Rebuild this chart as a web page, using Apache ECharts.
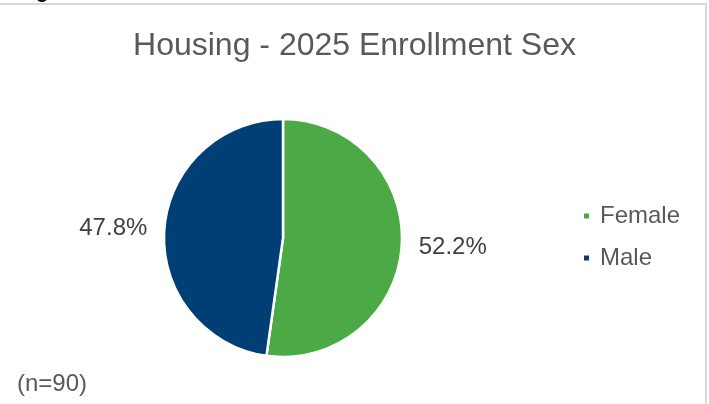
<!DOCTYPE html>
<html><head><meta charset="utf-8">
<script src="https://cdn.jsdelivr.net/npm/echarts@6/dist/echarts.min.js"></script>
<style>html,body{margin:0;padding:0;background:#fff}#c{width:709px;height:404px}</style>
</head><body><div id="c"></div>
<script>
const categories = ['Female', 'Male'];
const values = [47, 43];
const colors = ['#4BAA45', '#003F75'];
const titleText = 'Housing - 2025 Enrollment Sex';
const noteText = '(n=90)';
const total = values.reduce((a, b) => a + b, 0);

const chart = echarts.init(document.getElementById('c'));
chart.setOption({
  animation: false,
  backgroundColor: '#fff',
  title: {
    text: titleText, left: 'center', top: 25,
    textStyle: { fontFamily: 'Liberation Sans, Arial', fontSize: 32, fontWeight: 'normal', color: '#595959' }
  },
  legend: {
    orient: 'vertical', left: 577, top: 199, itemGap: 18,
    icon: 'rect', itemWidth: 7, itemHeight: 7,
    textStyle: { fontFamily: 'Liberation Sans, Arial', fontSize: 24, color: '#595959', padding: [0, 0, 0, 5] },
    data: categories
  },
  graphic: [
    { type: 'rect', shape: { x: -2, y: 4, width: 708, height: 420 }, style: { fill: 'none', stroke: '#d9d9d9', lineWidth: 2 }, z: -1 },
    { type: 'text', left: 17, top: 372, style: { text: noteText, font: '24px Liberation Sans, Arial', fill: '#595959' } },
    { type: 'text', left: 36, top: -18, style: { text: 'g', font: 'bold 20px Liberation Sans, Arial', fill: '#000' } }
  ],
  series: [{
    type: 'pie',
    center: [283, 238],
    radius: [0, 119],
    startAngle: 90,
    clockwise: true,
    itemStyle: { borderColor: '#fff', borderWidth: 2.5 },
    label: {
      show: true, position: 'outside',
      formatter: p => (p.value / total * 100).toFixed(1) + '%',
      fontFamily: 'Liberation Sans, Arial', fontSize: 24, color: '#404040'
    },
    labelLine: { show: false, length: 12, length2: 0 },
    data: categories.map((n, i) => ({ name: n, value: values[i], itemStyle: { color: colors[i] } }))
  }]
});
</script></body></html>
